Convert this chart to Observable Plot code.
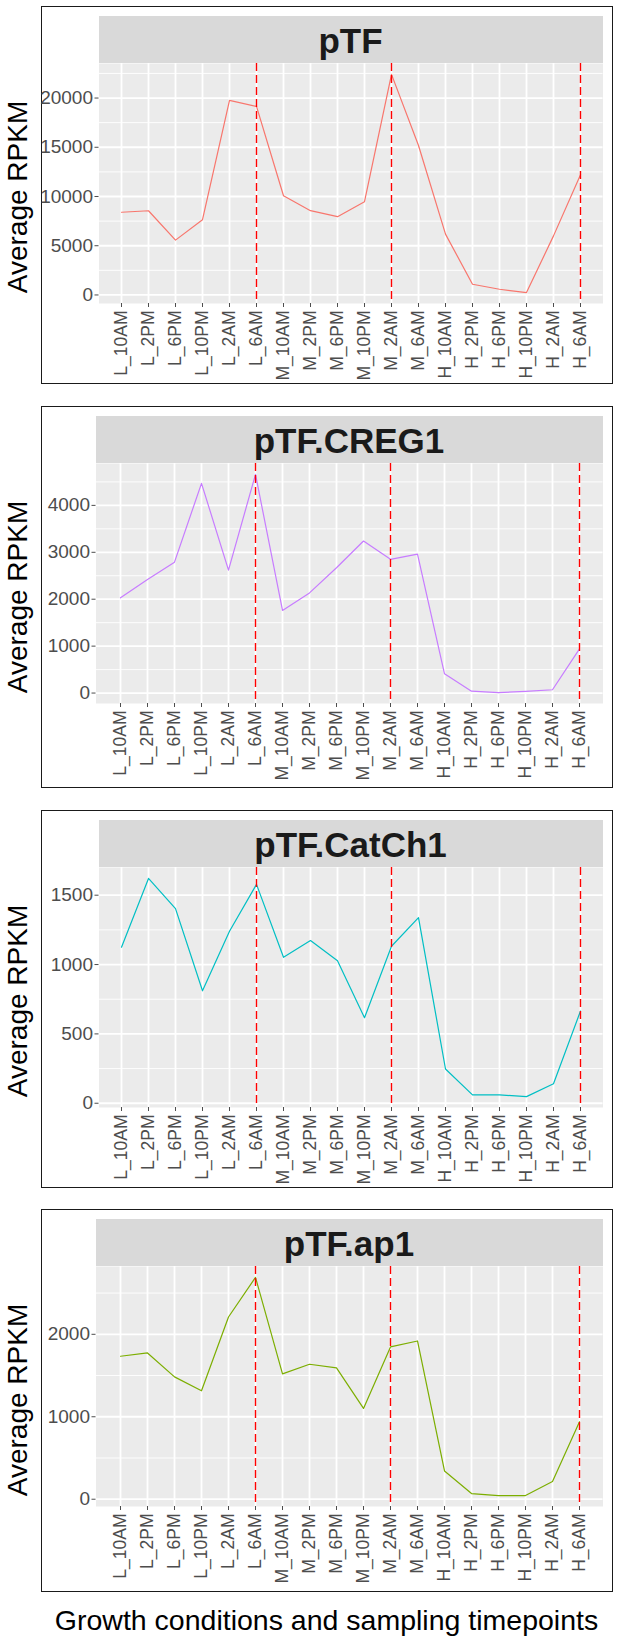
<!DOCTYPE html>
<html>
<head>
<meta charset="utf-8">
<script src="https://cdn.jsdelivr.net/npm/d3@7"></script>
<script src="https://cdn.jsdelivr.net/npm/@observablehq/plot@0.6"></script>
<style>
  html, body { margin: 0; padding: 0; background: #fff; }
  body { width: 617px; height: 1646px; position: relative; font-family: "Liberation Sans", Arial, sans-serif; overflow: hidden; }
  .box { position: absolute; left: 41px; width: 572px; box-sizing: border-box; border: 1.5px solid #1a1a1a; }
  .strip { position: absolute; background: #D9D9D9; color: #1a1a1a; font-weight: bold; font-size: 35px; text-align: center; }
  .plotwrap { position: absolute; left: 0; }
  .ytitle { position: absolute; width: 300px; height: 34px; line-height: 34px; font-size: 28px; text-align: center; color: #000; transform: rotate(-90deg); }
  .xtitle { position: absolute; left: 26.5px; width: 600px; top: 1603px; height: 34px; line-height: 34px; font-size: 28.5px; text-align: center; color: #000; }
</style>
</head>
<body>
<script>
const categories = ["L_10AM","L_2PM","L_6PM","L_10PM","L_2AM","L_6AM","M_10AM","M_2PM","M_6PM","M_10PM","M_2AM","M_6AM","H_10AM","H_2PM","H_6PM","H_10PM","H_2AM","H_6AM"];
const pTF        = [8400, 8550, 5570, 7640, 19760, 19150, 10080, 8560, 7950, 9470, 22400, 15180, 6180, 1090, 580, 240, 6000, 12220];
const pTF_CREG1  = [2030, 2420, 2790, 4470, 2620, 4660, 1760, 2135, 2670, 3240, 2850, 2960, 410, 40, 10, 35, 70, 940];
const pTF_CatCh1 = [1125, 1621, 1403, 811, 1240, 1578, 1052, 1173, 1028, 617, 1132, 1338, 247, 60, 60, 48, 140, 665];
const pTF_ap1    = [1734, 1774, 1484, 1315, 2210, 2690, 1520, 1637, 1593, 1101, 1847, 1919, 343, 69, 44, 44, 214, 940];
const panelTitles = ["pTF", "pTF.CREG1", "pTF.CatCh1", "pTF.ap1"];
const lineColors = ["#F8766D", "#C77CFF", "#00BFC4", "#7CAE00"];
const majorTicks = [[0, 5000, 10000, 15000, 20000], [0, 1000, 2000, 3000, 4000], [0, 500, 1000, 1500], [0, 1000, 2000]];
const minorTicks = [[2500, 7500, 12500, 17500, 22500], [500, 1500, 2500, 3500, 4500], [250, 750, 1250], [500, 1500, 2500]];
const dividers = ["L_6AM", "M_2AM", "H_6AM"];
const yTitle = "Average RPKM";
const xTitle = "Growth conditions and sampling timepoints";

const series = [pTF, pTF_CREG1, pTF_CatCh1, pTF_ap1];
const boxTops = [6, 406, 810, 1209];
const boxHeights = [378, 382, 378, 383];
const leftMargins = [56.5, 53.5, 56.5, 53.5];
const innerW = 569;
const rightMargin = 8.5;

series.forEach((values, i) => {
  const box = document.createElement("div");
  box.className = "box";
  box.style.top = boxTops[i] + "px";
  box.style.height = boxHeights[i] + "px";
  document.body.appendChild(box);

  const strip = document.createElement("div");
  strip.className = "strip";
  strip.style.left = leftMargins[i] + "px";
  strip.style.width = (innerW - leftMargins[i] - rightMargin) + "px";
  strip.style.top = "8.5px";
  strip.style.height = "47px";
  strip.style.lineHeight = "49px";
  strip.textContent = panelTitles[i];
  box.appendChild(strip);

  const data = categories.map((c, j) => ({time: c, value: values[j]}));
  const lo = d3.min(values), hi = d3.max(values), r = hi - lo;
  const chart = Plot.plot({
    width: innerW,
    height: 320,
    marginTop: 0,
    marginBottom: 80,
    marginLeft: leftMargins[i],
    marginRight: rightMargin,
    style: {fontFamily: "'Liberation Sans', Arial, sans-serif", fontSize: "16px", background: "transparent", overflow: "visible"},
    x: {type: "point", domain: categories, padding: 0.6},
    y: {domain: [lo - 0.05 * r, hi + 0.05 * r]},
    marks: [
      Plot.frame({fill: "#EBEBEB", stroke: "none"}),
      Plot.ruleY(minorTicks[i], {stroke: "white", strokeWidth: 0.9}),
      Plot.ruleY(majorTicks[i], {stroke: "white", strokeWidth: 1.8}),
      Plot.ruleX(categories, {stroke: "white", strokeWidth: 1.8}),
      Plot.line(data, {x: "time", y: "value", stroke: lineColors[i], strokeWidth: 1.2}),
      Plot.ruleX(dividers, {stroke: "#FF0000", strokeWidth: 1.4, strokeDasharray: "8,4"}),
      Plot.axisY({ticks: majorTicks[i], tickFormat: d3.format("d"), tickSize: 4, tickPadding: 2, color: "#4D4D4D", fontSize: 19, fontFamily: "'Liberation Sans Narrow', 'Arial Narrow', sans-serif", label: null}),
      Plot.axisX({tickRotate: -90, tickSize: 4, tickPadding: 3, color: "#4D4D4D", fontSize: 17.5, label: null})
    ]
  });
  const wrap = document.createElement("div");
  wrap.className = "plotwrap";
  wrap.style.top = "55.5px";
  wrap.appendChild(chart);
  box.appendChild(wrap);

  const yt = document.createElement("div");
  yt.className = "ytitle";
  yt.textContent = yTitle;
  yt.style.left = (18 - 150) + "px";
  yt.style.top = (boxTops[i] + 191 - 17) + "px";
  document.body.appendChild(yt);
});

const xt = document.createElement("div");
xt.className = "xtitle";
xt.textContent = xTitle;
document.body.appendChild(xt);
</script>
</body>
</html>
